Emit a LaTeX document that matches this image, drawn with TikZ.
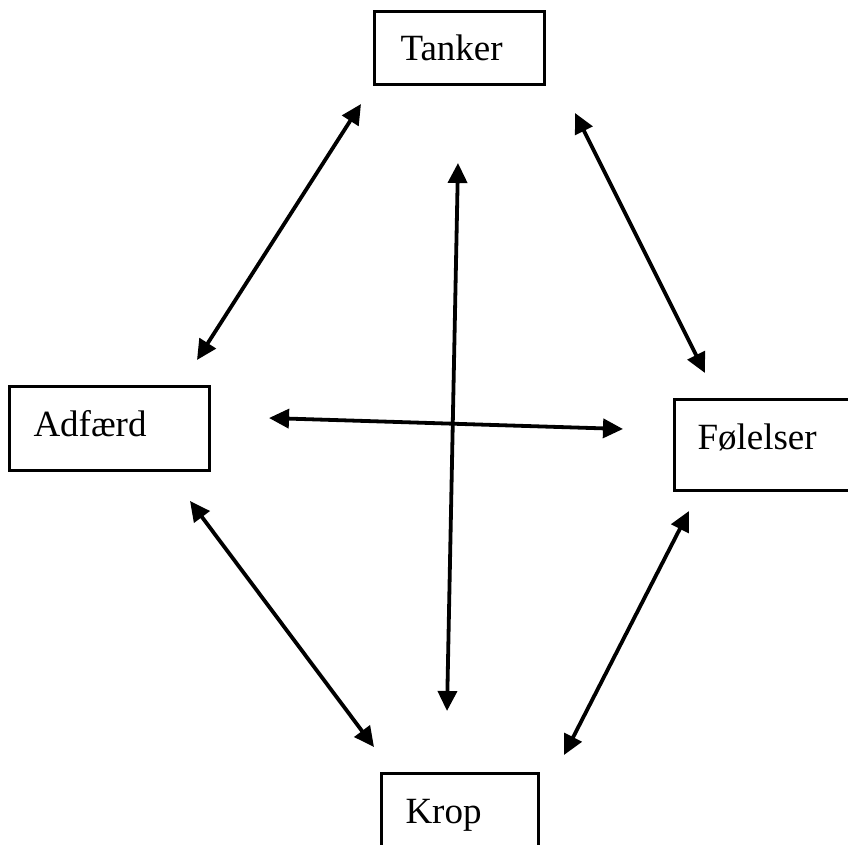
\documentclass[tikz,border=0pt]{standalone}
\usepackage{fontspec}
\setmainfont{Liberation Serif}
\usetikzlibrary{arrows.meta}
\begin{document}
\begin{tikzpicture}[x=1pt,y=-1pt,
  box/.style={draw, line width=3pt, anchor=north west, inner ysep=0pt,
    align=left, font=\fontsize{37}{40}\selectfont},
  link/.style={line width=3.8pt, {Triangle[length=20pt,width=19pt]}-{Triangle[length=20pt,width=19pt]}}]
\useasboundingbox (0,0) rectangle (848,845);
\fill[white] (0,0) rectangle (848,845);
\node[box, minimum width=170pt, minimum height=73pt, inner xsep=26pt, text width=118pt,
  text height=30pt, text depth=5pt] (tanker) at (373,10) {Tanker};
\node[box, minimum width=200pt, minimum height=84pt, inner xsep=24pt, text width=152pt,
  text height=26pt, text depth=10pt] (adfaerd) at (8,385) {Adfærd};
\node[box, minimum width=182pt, minimum height=91pt, inner xsep=23pt, text width=136pt,
  text height=26pt, text depth=17pt] (folelser) at (673,398) {Følelser};
\node[box, minimum width=157pt, minimum height=98pt, inner xsep=24pt, text width=109pt,
  text height=26pt, text depth=24pt] (krop) at (380,772) {Krop};
% arrow end points
\coordinate (ta) at (361,104);
\coordinate (at) at (197,360);
\coordinate (tf) at (575,113);
\coordinate (ft) at (705,373);
\coordinate (ak) at (190,501);
\coordinate (ka) at (374,747);
\coordinate (fk) at (689,511);
\coordinate (kf) at (564,755);
\coordinate (vt) at (458,163);
\coordinate (vb) at (447,711);
\coordinate (hl) at (269,418);
\coordinate (hr) at (623,429);
\draw[link] (ta) -- (at);
\draw[link] (tf) -- (ft);
\draw[link] (ak) -- (ka);
\draw[link] (fk) -- (kf);
\draw[link] (vt) -- (vb);
\draw[link] (hl) -- (hr);
\end{tikzpicture}
\end{document}
